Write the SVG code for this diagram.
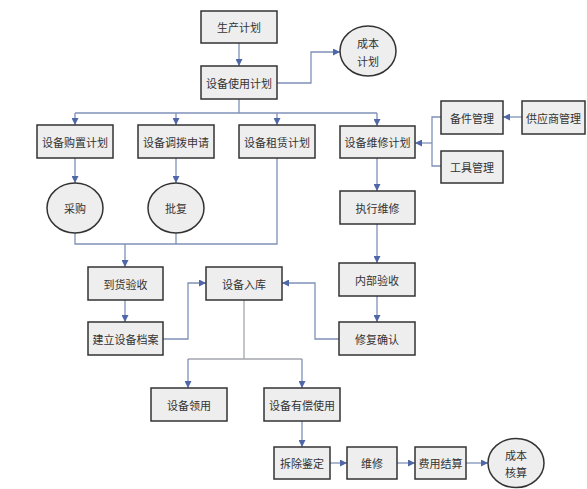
<svg xmlns="http://www.w3.org/2000/svg" width="587" height="489" viewBox="0 0 587 489">
<style>
.b{fill:#eeeeee;stroke:#333333;stroke-width:1.5}
.t{font-family:"Noto Sans CJK SC","Liberation Serif",serif;font-size:11px;fill:#333333;text-anchor:middle;dominant-baseline:central}
.c path{fill:none;stroke:#7f90b8;stroke-width:1.3}
.c path.g{stroke:#a4a6ad}
</style>
<defs>
<marker id="a" viewBox="0 0 10 10" refX="10" refY="5" markerWidth="7" markerHeight="7" markerUnits="userSpaceOnUse" orient="auto">
<path d="M0,0 L10,5 L0,10 z" fill="#4f67a6"/>
</marker>
</defs>
<rect width="587" height="489" fill="#ffffff"/>
<g class="c">
<path d="M239,43 V66" marker-end="url(#a)"/>
<path d="M277,83 H311 V52 H340" marker-end="url(#a)"/>
<path d="M239,99 V113"/>
<path d="M75,113 H377"/>
<path d="M75,113 V125" marker-end="url(#a)"/>
<path d="M176,113 V125" marker-end="url(#a)"/>
<path d="M277,113 V125" marker-end="url(#a)"/>
<path d="M377,113 V126" marker-end="url(#a)"/>
<path d="M75,158 V183" marker-end="url(#a)"/>
<path d="M176,158 V183" marker-end="url(#a)"/>
<path d="M75,232 V244 H277 V158"/>
<path d="M176,232 V244"/>
<path d="M125,244 V267" marker-end="url(#a)"/>
<path d="M125,300 V322" marker-end="url(#a)"/>
<path d="M163,339 H188 V283 H206" marker-end="url(#a)"/>
<path class="g" d="M244,300 V359"/>
<path class="g" d="M188,359 H302"/>
<path d="M188,359 V388" marker-end="url(#a)"/>
<path d="M302,359 V388" marker-end="url(#a)"/>
<path d="M302,421 V447" marker-end="url(#a)"/>
<path d="M330,463 H347" marker-end="url(#a)"/>
<path d="M397,463 H415" marker-end="url(#a)"/>
<path d="M466,463 H488" marker-end="url(#a)"/>
<path d="M377,158 V191" marker-end="url(#a)"/>
<path d="M377,224 V263" marker-end="url(#a)"/>
<path d="M377,296 V322" marker-end="url(#a)"/>
<path d="M339,339 H315 V283 H282" marker-end="url(#a)"/>
<path d="M441,117 H432 V166 H441"/>
<path d="M432,143 H415" marker-end="url(#a)"/>
<path d="M522,117 H503" marker-end="url(#a)"/>
</g>
<g id="n1"><rect class="b" x="201" y="11" width="76" height="32"/><text class="t" x="239" y="27">生产计划</text></g>
<g id="n2"><rect class="b" x="201" y="66" width="76" height="33"/><text class="t" x="239" y="82.5">设备使用计划</text></g>
<g id="n3"><ellipse class="b" cx="368" cy="51" rx="28" ry="25"/><text class="t" x="368" y="43">成本</text><text class="t" x="368" y="61">计划</text></g>
<g id="n4"><rect class="b" x="37" y="125" width="76" height="33"/><text class="t" x="75" y="141.5">设备购置计划</text></g>
<g id="n5"><rect class="b" x="138" y="125" width="76" height="33"/><text class="t" x="176" y="141.5">设备调拨申请</text></g>
<g id="n6"><rect class="b" x="239" y="125" width="76" height="33"/><text class="t" x="277" y="141.5">设备租赁计划</text></g>
<g id="n7"><rect class="b" x="340" y="126" width="75" height="32"/><text class="t" x="377.5" y="142">设备维修计划</text></g>
<g id="n8"><rect class="b" x="441" y="101" width="62" height="33"/><text class="t" x="472" y="117.5">备件管理</text></g>
<g id="n9"><rect class="b" x="522" y="101" width="63" height="33"/><text class="t" x="553.5" y="117.5">供应商管理</text></g>
<g id="n10"><rect class="b" x="441" y="151" width="62" height="32"/><text class="t" x="472" y="167">工具管理</text></g>
<g id="n11"><ellipse class="b" cx="75" cy="208" rx="28" ry="25"/><text class="t" x="75" y="208">采购</text></g>
<g id="n12"><ellipse class="b" cx="176" cy="208" rx="28" ry="25"/><text class="t" x="176" y="208">批复</text></g>
<g id="n13"><rect class="b" x="340" y="191" width="75" height="33"/><text class="t" x="377.5" y="207.5">执行维修</text></g>
<g id="n14"><rect class="b" x="88" y="267" width="75" height="33"/><text class="t" x="125.5" y="283.5">到货验收</text></g>
<g id="n15"><rect class="b" x="88" y="322" width="75" height="33"/><text class="t" x="125.5" y="338.5">建立设备档案</text></g>
<g id="n16"><rect class="b" x="206" y="267" width="76" height="33"/><text class="t" x="244" y="283.5">设备入库</text></g>
<g id="n17"><rect class="b" x="339" y="263" width="76" height="33"/><text class="t" x="377" y="279.5">内部验收</text></g>
<g id="n18"><rect class="b" x="339" y="322" width="76" height="33"/><text class="t" x="377" y="338.5">修复确认</text></g>
<g id="n19"><rect class="b" x="151" y="388" width="76" height="33"/><text class="t" x="189" y="404.5">设备领用</text></g>
<g id="n20"><rect class="b" x="264" y="388" width="76" height="33"/><text class="t" x="302" y="404.5">设备有偿使用</text></g>
<g id="n21"><rect class="b" x="274" y="447" width="56" height="32"/><text class="t" x="302" y="463">拆除鉴定</text></g>
<g id="n22"><rect class="b" x="347" y="447" width="50" height="32"/><text class="t" x="372" y="463">维修</text></g>
<g id="n23"><rect class="b" x="415" y="447" width="51" height="32"/><text class="t" x="440.5" y="463">费用结算</text></g>
<g id="n24"><ellipse class="b" cx="516" cy="463" rx="28" ry="24.5"/><text class="t" x="516" y="455">成本</text><text class="t" x="516" y="472">核算</text></g>
</svg>
